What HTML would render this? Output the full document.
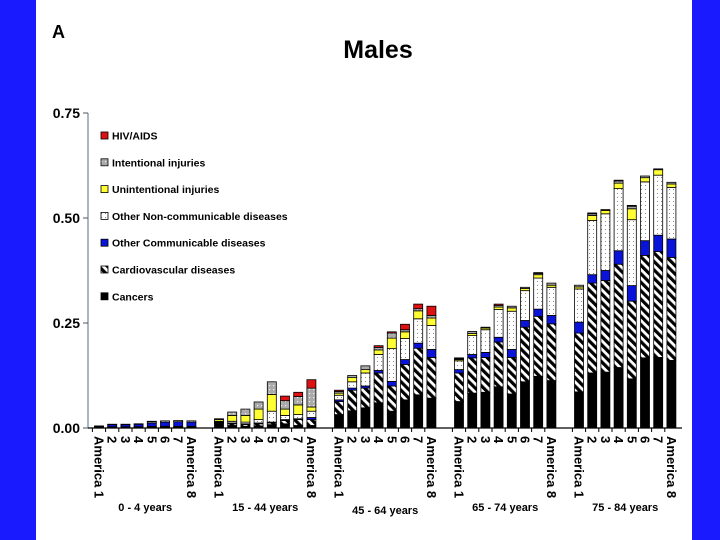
<!DOCTYPE html>
<html><head><meta charset="utf-8">
<style>
html,body{margin:0;padding:0;background:#fff;}
svg{display:block;font-family:"Liberation Sans",Arial,sans-serif;font-weight:bold;}
</style></head>
<body>
<svg id="chart" width="720" height="540" viewBox="0 0 720 540">
<defs>
<pattern id="stripe" patternUnits="userSpaceOnUse" width="6" height="6" patternTransform="rotate(-45)">
<rect width="6" height="6" fill="#fff"/><rect width="3.2" height="6" fill="#000"/></pattern>
<pattern id="dots" patternUnits="userSpaceOnUse" width="4" height="4">
<rect width="4" height="4" fill="#fff"/><rect x="1" y="1" width="1" height="1" fill="#888"/></pattern>
<pattern id="gdots" patternUnits="userSpaceOnUse" width="4" height="4">
<rect width="4" height="4" fill="#aaa"/><rect x="1" y="1" width="1.2" height="1.2" fill="#eee"/></pattern>
</defs>
<rect x="0" y="0" width="36" height="540" fill="#1a1aff"/>
<rect x="692" y="0" width="28" height="540" fill="#1a1aff"/>
<text x="52" y="38" font-size="18">A</text>
<text x="378" y="58" font-size="25" text-anchor="middle">Males</text>
<g id="axes"></g>
<g id="bars"></g>
<g id="legend"></g>
</svg>
<script>
const groups = ["0 - 4 years","15 - 44 years","45 - 64 years","65 - 74 years","75 - 84 years"];
const regions = ["America 1","2","3","4","5","6","7","America 8"];
const yTicks = [0,0.25,0.5,0.75];
const yTickLabels = ["0.00","0.25","0.50","0.75"];
const seriesNames = ["Cancers","Cardiovascular diseases","Other Communicable diseases","Other Non-communicable diseases","Unintentional injuries","Intentional injuries","HIV/AIDS"];
// each array: 40 values (5 age groups x 8 regions)
const cancers = [.002,.002,.002,.002,.002,.002,.002,.002, .010,.006,.004,.005,.008,.010,.006,.006, .032,.041,.048,.060,.040,.067,.079,.071, .063,.083,.085,.098,.081,.110,.123,.113, .086,.131,.133,.144,.117,.167,.168,.161];
const cardio = [.001,.001,.001,.001,.002,.002,.002,.002, .002,.004,.004,.005,.004,.008,.014,.014, .031,.049,.047,.071,.060,.084,.111,.097, .068,.084,.083,.107,.087,.130,.143,.135, .140,.214,.218,.246,.185,.244,.252,.245];
const otherComm = [.002,.005,.005,.006,.008,.010,.011,.010, .002,.002,.002,.002,.002,.002,.002,.005, .004,.005,.005,.006,.011,.012,.012,.019, .008,.008,.012,.011,.019,.016,.017,.020, .026,.020,.024,.032,.037,.035,.039,.044];
const otherNCD = [0,.001,.001,.001,.003,.003,.003,.003, .002,.004,.004,.008,.026,.010,.010,.015, .011,.015,.031,.038,.078,.050,.058,.057, .021,.045,.054,.066,.091,.071,.074,.067, .079,.129,.135,.148,.157,.140,.143,.123];
const unintentional = [0,0,0,0,.001,0,0,0, .004,.014,.016,.025,.040,.015,.023,.010, .005,.010,.008,.011,.025,.016,.019,.018, .003,.005,.004,.006,.008,.005,.008,.005, .005,.012,.008,.013,.026,.010,.013,.008];
const intentional = [0,0,0,0,0,0,0,0, .002,.008,.015,.017,.030,.020,.020,.045, .004,.005,.009,.006,.012,.005,.005,.006, .002,.005,.002,.004,.004,.003,.003,.005, .004,.004,.002,.005,.006,.004,.002,.004];
const hiv = [0,0,0,0,0,0,0,0, 0,0,0,0,0,.011,.010,.020, .003,0,0,.004,.003,.013,.011,.022, .002,0,0,.003,0,0,.002,0, 0,.002,0,.002,.002,0,0,0];
const series = [cancers,cardio,otherComm,otherNCD,unintentional,intentional,hiv];
const fills = ["#000","url(#stripe)","#0a14d8","url(#dots)","#ffff33","url(#gdots)","#dd1111"];
const segNames = ["cancers","cardiovascular","other-communicable","other-ncd","unintentional-injuries","intentional-injuries","hiv-aids"];

const NS="http://www.w3.org/2000/svg";
const y0=428, yScale=420;
function yPos(v){return y0 - v*yScale;}
function xPos(g,i){return 99 + g*120 + i*13.2;}
function mk(tag,attrs,parent){const e=document.createElementNS(NS,tag);for(const k in attrs)e.setAttribute(k,attrs[k]);parent.appendChild(e);return e;}

const axes=document.getElementById('axes');
let yl=mk('line',{x1:88,y1:113,x2:88,y2:y0,stroke:'#7a8fa8','stroke-width':1.3},axes);


let xl=mk('line',{x1:88,y1:y0,x2:682,y2:y0,stroke:'#000','stroke-width':1.3},axes);


yTicks.forEach((t,k)=>{
  let tk=mk('line',{x1:83,y1:yPos(t),x2:88,y2:yPos(t),stroke:'#555'},axes);
  
  
  let tx=mk('text',{x:80,y:yPos(t)+5,'font-size':14,'text-anchor':'end'},axes);
  tx.textContent=yTickLabels[k];
  
  
});
const bars=document.getElementById('bars');
groups.forEach((gname,g)=>{
  regions.forEach((r,i)=>{
    const idx=g*8+i; const cx=xPos(g,i);
    let cum=0;
    series.forEach((s,k)=>{
      const v=s[idx]; if(v<=0) return;
      const r1=mk('rect',{x:cx-4.5,y:yPos(cum+v),width:9,height:v*yScale,fill:fills[k],stroke:'#000','stroke-width':0.8},bars);
      
      
      cum+=v;
    });
    let tk=mk('line',{x1:cx-6.6,y1:y0,x2:cx-6.6,y2:y0+4,stroke:'#000'},axes);
    
    
    let lb=mk('text',{x:0,y:0,'font-size':13,transform:`translate(${cx-4.5},${y0+8}) rotate(90)`},axes);
    lb.textContent=r;
    
    
  });
  let gl=mk('text',{x:xPos(g,3.5),y:g==2?514:511,'font-size':11,'text-anchor':'middle'},axes);
  gl.textContent=gname;
  
  
});
const legend=document.getElementById('legend');
for(let k=6;k>=0;k--){
  const row=6-k; const yy=136+row*26.8;
  let sw=mk('rect',{x:101,y:yy-4,width:7,height:7,fill:fills[k],stroke:'#000','stroke-width':0.8},legend);
  
  
  let t=mk('text',{x:112,y:yy+3.5,'font-size':10.5},legend);
  t.textContent=seriesNames[k];
  
  
}
</script>
</body></html>
